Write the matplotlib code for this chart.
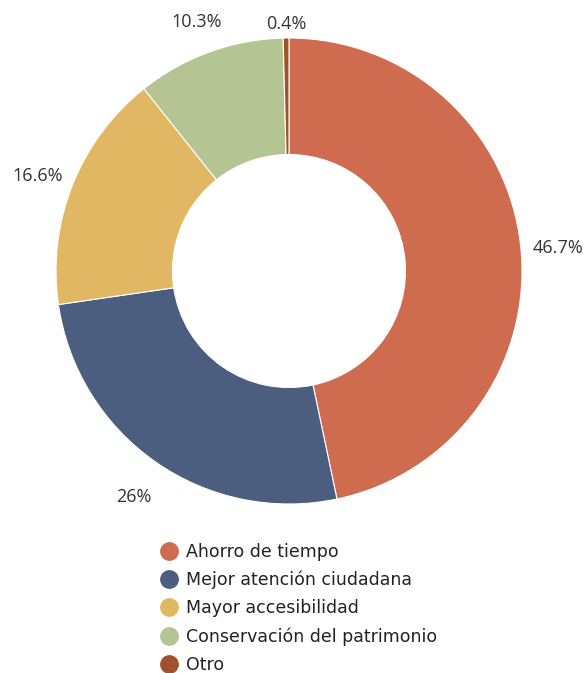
import numpy as np
import matplotlib as mpl
mpl.use('Agg')
import matplotlib.pyplot as plt
from matplotlib.lines import Line2D

########################################
# data

categories = ['Ahorro de tiempo', 'Mejor atención ciudadana', 'Mayor accesibilidad',
              'Conservación del patrimonio', 'Otro']
values = [46.7, 26, 16.6, 10.3, 0.4]
pct_labels = ['46.7%', '26%', '16.6%', '10.3%', '0.4%']
colors = ['#CF6B4F', '#4B5E80', '#E2B764', '#B5C493', '#A0522D']

########################################
# plot

fig = plt.figure(figsize=(5.85, 6.73), dpi=100)
ax = fig.add_axes([56/585, (673-271-233)/673, 466/585, 466/673])

wedges, texts = ax.pie(values, colors=colors, startangle=90, counterclock=False,
                       radius=1, labels=pct_labels, labeldistance=1.15,
                       wedgeprops=dict(width=0.5, edgecolor='white', linewidth=0.8),
                       textprops=dict(fontsize=13, color='#333333', family='Open Sans'))

# keep the tiny top label from running off the figure
for w, t in zip(wedges, texts):
    ang = np.deg2rad((w.theta1 + w.theta2) / 2)
    d = 1.08 if np.sin(ang) > 0.98 else 1.16
    t.set_position((d * np.cos(ang), d * np.sin(ang) - 0.02))
    t.set_ha('center')
    t.set_va('center')

ax.set_xlim(-1, 1)
ax.set_ylim(-1, 1)
ax.set_aspect('equal')
ax.axis('off')

handles = [Line2D([], [], marker='o', ls='', markersize=12.5, markerfacecolor=c,
                  markeredgecolor=c) for c in colors]
fig.legend(handles, categories, loc='upper left', bbox_to_anchor=(161/585, 1 - 543/673),
           frameon=False, handletextpad=0.55, labelspacing=0.57, handlelength=0.9,
           prop=dict(family='DejaVu Sans', size=12.5), labelcolor='#222222',
           borderaxespad=0, borderpad=0)

fig.savefig('out.png', dpi=100, facecolor='white')
